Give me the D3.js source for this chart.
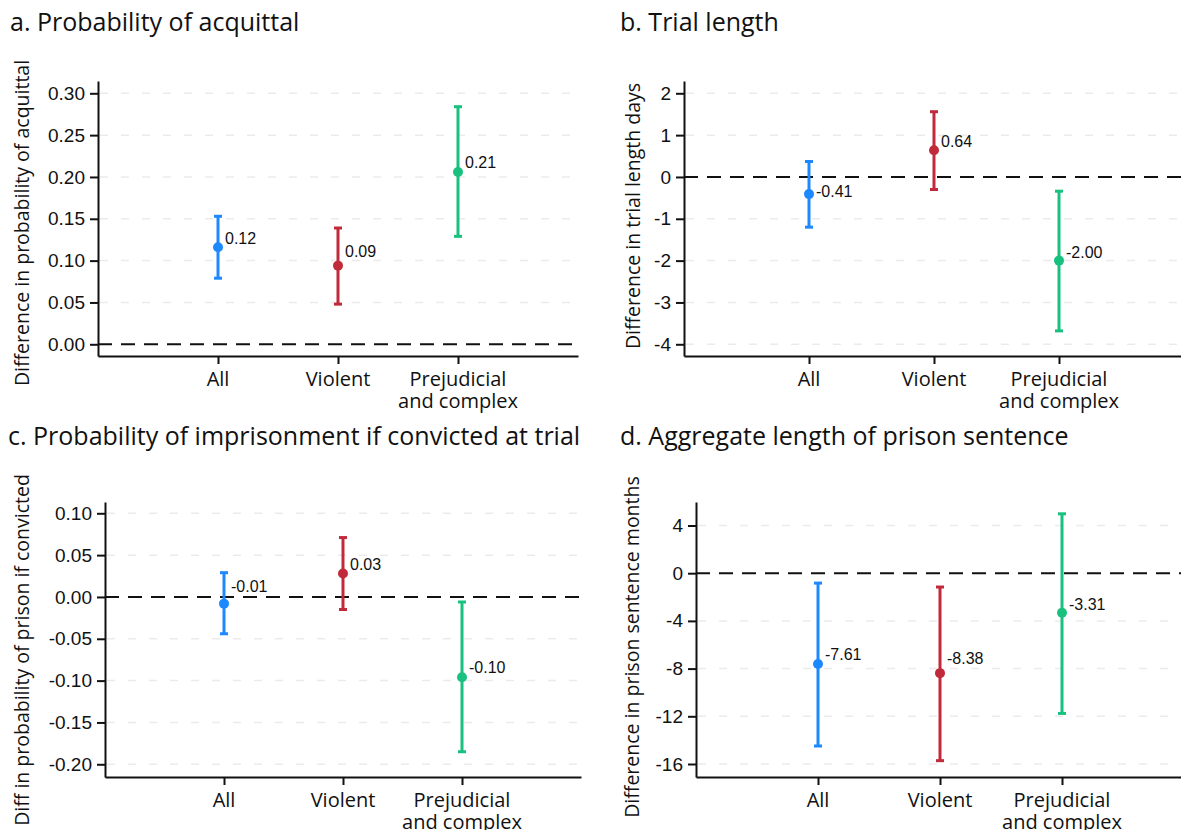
<!doctype html>
<html>
<head>
  <meta charset="utf-8">
  <style type="text/css">
    body { margin: 0; background: #fff; }
    svg { display: block; background: #fff; }
    .title { font-family: "Open Sans", sans-serif; font-size: 25px; fill: #111; }
    .ytitle { font-family: "Open Sans", sans-serif; font-size: 19.5px; fill: #111; }
    .cat { font-family: "Open Sans", sans-serif; font-size: 20px; fill: #111; }
    .axis text { font-family: "Liberation Sans", Arial, sans-serif; font-size: 19px; fill: #111; }
    .axis path, .axis line { stroke: #111; stroke-width: 2; fill: none; }
    .grid { stroke: #ebebeb; stroke-width: 1.5; stroke-dasharray: 8,13; }
    .zero { stroke: #111; stroke-width: 2; stroke-dasharray: 14,9; }
    .val { font-family: "Liberation Sans", Arial, sans-serif; font-size: 16px; fill: #111; }
  </style>
  <title>Trial outcomes</title>
</head>
<body>
<svg class="chart"></svg>

<script type="text/javascript" src="https://cdnjs.cloudflare.com/ajax/libs/d3/7.8.5/d3.min.js"></script>
<script type="text/javascript">

var width = 1181,
    height = 830;

// shared data
var categories = ["All", "Violent", "Prejudicial\nand complex"];
var colors = ["#1e88ff", "#c12a3a", "#19c17f"];

var titles = [
  "a. Probability of acquittal",
  "b. Trial length",
  "c. Probability of imprisonment if convicted at trial",
  "d. Aggregate length of prison sentence"
];
var yTitles = [
  "Difference in probability of acquittal",
  "Difference in trial length days",
  "Diff in probability of prison if convicted",
  "Difference in prison sentence months"
];

// a. acquittal
var estA = [0.116, 0.094, 0.206];
var lowA = [0.079, 0.048, 0.129];
var highA = [0.153, 0.139, 0.284];
var ticksA = [0, 0.05, 0.10, 0.15, 0.20, 0.25, 0.30];
var limA = [-0.014, 0.3147];

// b. trial length
var estB = [-0.41, 0.64, -2.00];
var lowB = [-1.20, -0.30, -3.68];
var highB = [0.37, 1.56, -0.34];
var ticksB = [-4, -3, -2, -1, 0, 1, 2];
var limB = [-4.28, 2.294];

// c. imprisonment
var estC = [-0.008, 0.028, -0.096];
var lowC = [-0.044, -0.015, -0.185];
var highC = [0.029, 0.071, -0.006];
var ticksC = [-0.20, -0.15, -0.10, -0.05, 0, 0.05, 0.10];
var limC = [-0.2152, 0.1135];

// d. sentence length
var estD = [-7.61, -8.38, -3.31];
var lowD = [-14.49, -15.72, -11.76];
var highD = [-0.83, -1.16, 4.98];
var ticksD = [-16, -12, -8, -4, 0, 4];
var limD = [-17.09, 5.97];

function fmt(spec) {
  var f = d3.format(spec);
  return function(v) { return f(v).replace("\u2212", "-"); };
}

// layout only: plot box, title spots, value-label nudges
var panels = [
  { est: estA, low: lowA, high: highA, ticks: ticksA, lim: limA, tf: ".2f",
    left: 98, right: 578, top: 81, bottom: 356, tx: 10, ty: 31, yx: 22, yc: 223,
    nudge: [-3, -9, -4] },
  { est: estB, low: lowB, high: highB, ticks: ticksB, lim: limB, tf: "d",
    left: 684, right: 1184, top: 81, bottom: 356, tx: 620, ty: 31, yx: 633, yc: 216,
    nudge: [3, -3, -3] },
  { est: estC, low: lowC, high: highC, ticks: ticksC, lim: limC, tf: ".2f",
    left: 105, right: 581, top: 502, bottom: 777, tx: 8, ty: 445, yx: 22, yc: 650,
    nudge: [-12, -4, -4] },
  { est: estD, low: lowD, high: highD, ticks: ticksD, lim: limD, tf: "d",
    left: 696, right: 1184, top: 502, bottom: 777, tx: 620, ty: 445, yx: 632, yc: 647,
    nudge: [-4, -9, -3] }
];

var svg = d3.select(".chart")
  .attr("width", width)
  .attr("height", height);

panels.forEach(function(p, k) {
  var g = svg.append("g");

  var x = d3.scaleLinear().domain([0, 4]).range([p.left, p.right]);
  var y = d3.scaleLinear().domain(p.lim).range([p.bottom, p.top]);

  g.append("text")
    .attr("class", "title")
    .attr("x", p.tx)
    .attr("y", p.ty)
    .text(titles[k]);

  g.append("text")
    .attr("class", "ytitle")
    .attr("transform", "translate(" + p.yx + "," + p.yc + ") rotate(-90)")
    .attr("text-anchor", "middle")
    .attr("dy", "0.35em")
    .text(yTitles[k]);

  // light gridlines
  g.selectAll(".grid")
    .data(p.ticks.filter(function(t) { return t !== 0; }))
    .enter().append("line")
    .attr("class", "grid")
    .attr("x1", p.left + 2).attr("x2", p.right)
    .attr("y1", function(d) { return y(d); })
    .attr("y2", function(d) { return y(d); });

  // zero reference
  g.append("line")
    .attr("class", "zero")
    .attr("x1", p.left).attr("x2", p.right)
    .attr("y1", y(0)).attr("y2", y(0));

  g.append("g")
    .attr("class", "axis")
    .attr("transform", "translate(" + p.left + ",0)")
    .call(d3.axisLeft(y).tickValues(p.ticks).tickSize(8).tickSizeOuter(0)
      .tickPadding(5).tickFormat(fmt(p.tf)));

  g.append("g")
    .attr("class", "axis")
    .attr("transform", "translate(0," + p.bottom + ")")
    .call(d3.axisBottom(x).tickValues([1, 2, 3]).tickSize(8).tickSizeOuter(0)
      .tickFormat(""));

  var labs = g.selectAll(".cat")
    .data(categories)
    .enter().append("text")
    .attr("class", "cat")
    .attr("text-anchor", "middle")
    .attr("x", function(d, i) { return x(i + 1); })
    .attr("y", p.bottom + 30);
  labs.each(function(d) {
    var t = d3.select(this);
    d.split("\n").forEach(function(line, j) {
      t.append("tspan")
        .attr("x", t.attr("x"))
        .attr("dy", j === 0 ? 0 : 22)
        .text(line);
    });
  });

  var bars = g.selectAll(".bar")
    .data(p.est)
    .enter().append("g")
    .attr("class", "bar");

  bars.append("line")
    .attr("x1", function(d, i) { return x(i + 1); })
    .attr("x2", function(d, i) { return x(i + 1); })
    .attr("y1", function(d, i) { return y(p.low[i]); })
    .attr("y2", function(d, i) { return y(p.high[i]); })
    .attr("stroke", function(d, i) { return colors[i]; })
    .attr("stroke-width", 3);

  ["low", "high"].forEach(function(key) {
    bars.append("line")
      .attr("x1", function(d, i) { return x(i + 1) - 4; })
      .attr("x2", function(d, i) { return x(i + 1) + 4; })
      .attr("y1", function(d, i) { return y(p[key][i]); })
      .attr("y2", function(d, i) { return y(p[key][i]); })
      .attr("stroke", function(d, i) { return colors[i]; })
      .attr("stroke-width", 3);
  });

  bars.append("circle")
    .attr("cx", function(d, i) { return x(i + 1); })
    .attr("cy", function(d) { return y(d); })
    .attr("r", 5)
    .attr("fill", function(d, i) { return colors[i]; });

  bars.append("text")
    .attr("class", "val")
    .attr("x", function(d, i) { return x(i + 1) + 7; })
    .attr("y", function(d, i) { return y(d) + p.nudge[i]; })
    .text(function(d) { return fmt(".2f")(d); });
});

</script>
</body>
</html>
